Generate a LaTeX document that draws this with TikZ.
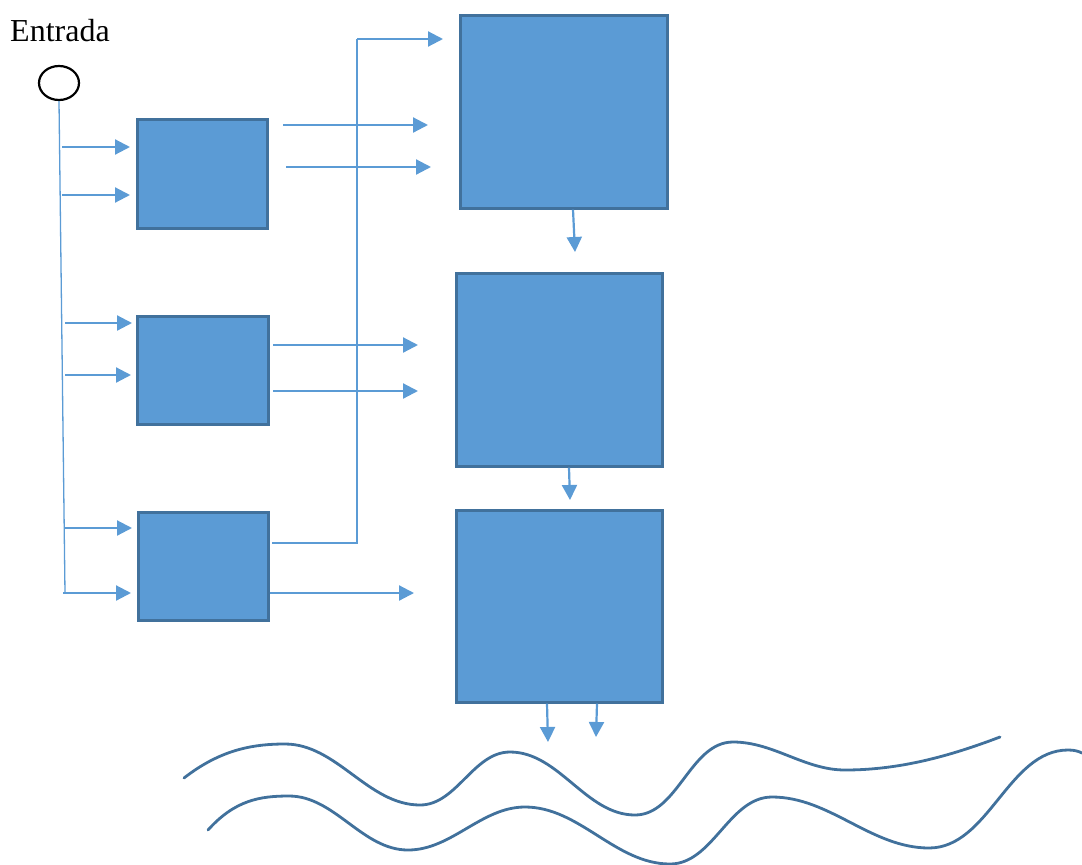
\documentclass[tikz,border=0pt]{standalone}
\usepackage{fontspec}
\setmainfont{Liberation Serif}
\usetikzlibrary{arrows.meta,shapes.geometric}
\definecolor{boxfill}{HTML}{5B9BD5}
\definecolor{boxedge}{HTML}{41719C}
\tikzset{
  block/.style={draw=boxedge, fill=boxfill, line width=2.6pt, inner sep=0pt, anchor=north west},
  arr/.style={draw=boxfill, line width=2.2pt, -{Triangle[length=15pt,width=15pt]}},
  link/.style={draw=boxfill, line width=2.2pt},
  trunk/.style={draw=boxfill, line width=1.3pt},
  wave/.style={draw=boxedge, line width=2.8pt, line cap=round},
}
\begin{document}
\begin{tikzpicture}[x=1pt,y=-1pt]
\useasboundingbox (0,0) rectangle (1082,865);

% input label and terminal
\node[anchor=base west, inner sep=0pt, font=\fontsize{32}{38}\selectfont] (lbl) at (10,41) {Entrada};
\node[draw=black, line width=2.2pt, ellipse, minimum width=40pt, minimum height=34pt, inner sep=0pt] (in) at (59,83) {};

% left column of blocks
\node[block, minimum width=130pt, minimum height=109pt] (b1) at (136,118) {};
\node[block, minimum width=131pt, minimum height=108pt] (b2) at (136,315) {};
\node[block, minimum width=130pt, minimum height=108pt] (b3) at (137,511) {};

% right column of blocks
\node[block, minimum width=207pt, minimum height=193pt] (r1) at (459,14) {};
\node[block, minimum width=206pt, minimum height=193pt] (r2) at (455,272) {};
\node[block, minimum width=206pt, minimum height=192pt] (r3) at (455,509) {};

% distribution trunk from the input
\coordinate (tend) at (65,593);
\draw[trunk] (in.south) -- (tend);

% branches into the left blocks
\draw[arr] (62,147) -- (130,147);
\draw[arr] (62,195) -- (130,195);
\draw[arr] (65,323) -- (132,323);
\draw[arr] (65,375) -- (131,375);
\draw[arr] (65,528) -- (132,528);
\draw[arr] (tend) ++(-2,0) -- (131,593);

% outputs of the left blocks
\draw[arr] (283,125) -- (428,125);
\draw[arr] (286,167) -- (431,167);
\draw[arr] (273,345) -- (418,345);
\draw[arr] (273,391) -- (418,391);
\draw[arr] (b3.east |- 0,593) -- (414,593);
\coordinate (c1) at (357,543);
\coordinate (c2) at (357,39);
\draw[link] (272,543) -- (c1) -- (c2);
\draw[arr] (c2) -- (443,39);

% outputs of the right blocks
\draw[arr] (r1.south -| 573,0) -- (575,252);
\draw[arr] (r2.south -| 569,0) -- (570,500);
\draw[arr] (r3.south -| 547,0) -- (548,742);
\draw[arr] (r3.south -| 597,0) -- (596,737);

% wavy lines at the bottom
\draw[wave] (184,778) .. controls (220,750) and (252,744) .. (285,744)
  to[out=0,in=180,looseness=0.9] (420,805)
  to[out=0,in=180,looseness=0.9] (510,752)
  to[out=0,in=180,looseness=0.9] (635,815)
  to[out=0,in=180,looseness=0.9] (733,742)
  to[out=0,in=180,looseness=0.9] (845,770)
  .. controls (900,770) and (950,756) .. (1000,737);
\draw[wave] (208,830) .. controls (235,800) and (260,796) .. (289,796)
  to[out=0,in=180,looseness=0.9] (408,850)
  to[out=0,in=180,looseness=0.9] (525,807)
  to[out=0,in=180,looseness=0.9] (670,864)
  to[out=0,in=180,looseness=0.9] (772,797)
  to[out=0,in=180,looseness=0.9] (929,848)
  to[out=0,in=180,looseness=0.9] (1068,750)
  .. controls (1074,750) and (1078,751) .. (1082,753);
\end{tikzpicture}
\end{document}
